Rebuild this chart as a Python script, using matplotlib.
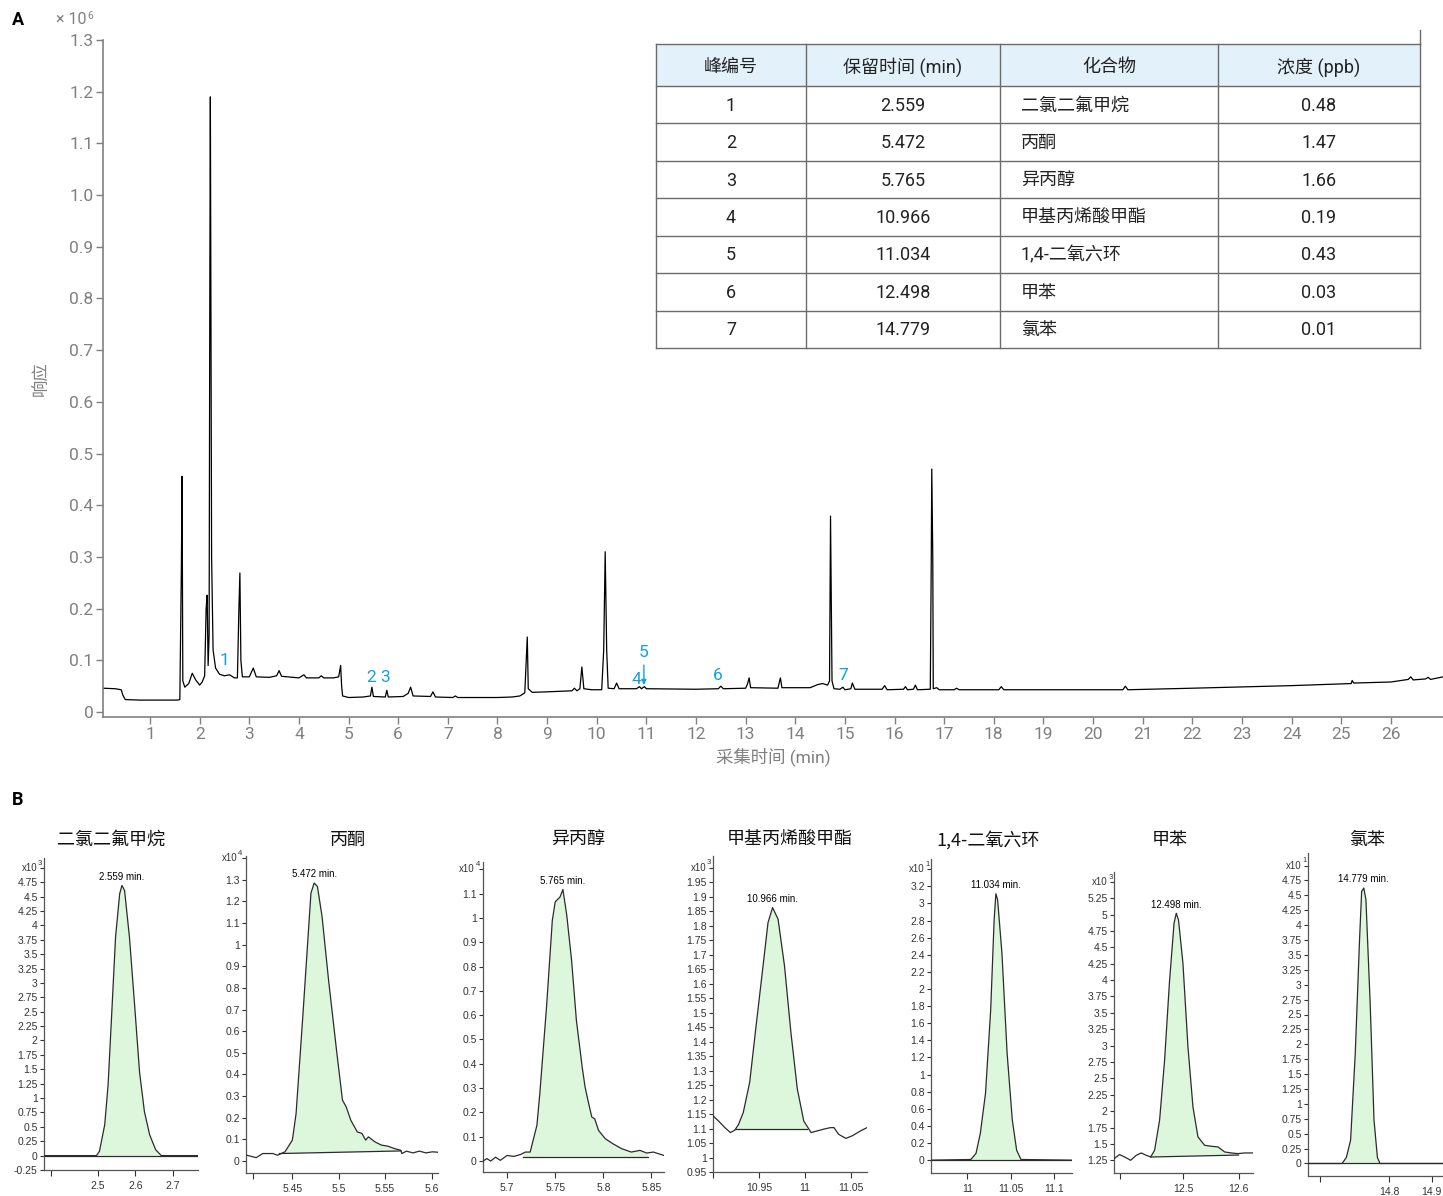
import numpy as np
import matplotlib
matplotlib.use("Agg")
import matplotlib.pyplot as plt

W, H = 1443, 1196
CJK = ['Roboto', 'Noto Sans CJK SC', 'DejaVu Sans']
SMALL = ['Liberation Sans', 'DejaVu Sans']

# ---------------- Panel A data (response x 1e6) ----------------
trace_t = [0.05, 0.3, 0.42, 0.45, 0.5, 0.8, 1.2, 1.55, 1.6, 1.63, 1.645, 1.66, 1.7, 1.78, 1.85, 1.92,
           2.0, 2.05, 2.1, 2.13, 2.15, 2.17, 2.19, 2.205, 2.215, 2.225, 2.24, 2.27, 2.32, 2.4, 2.5,
           2.6, 2.7, 2.76, 2.79, 2.81, 2.83, 2.86, 3.0, 3.08, 3.14, 3.4, 3.55, 3.6, 3.65, 4.0, 4.1,
           4.15, 4.4, 4.45, 4.5, 4.7, 4.8, 4.84, 4.86, 4.88, 5.0, 5.3, 5.44, 5.47, 5.5, 5.74, 5.77,
           5.8, 6.1, 6.2, 6.25, 6.3, 6.65, 6.7, 6.75, 7.1, 7.15, 7.2, 8.0, 8.3, 8.45, 8.55, 8.58,
           8.6, 8.62, 8.7, 9.0, 9.5, 9.55, 9.6, 9.66, 9.7, 9.74, 9.9, 10.1, 10.14, 10.17, 10.2,
           10.23, 10.35, 10.4, 10.45, 10.8, 10.86, 10.9, 10.96, 11.0, 12.0, 12.45, 12.5, 12.55,
           13.0, 13.04, 13.07, 13.1, 13.65, 13.7, 13.73, 14.3, 14.45, 14.55, 14.65, 14.69, 14.71,
           14.74, 14.78, 14.9, 14.96, 15.0, 15.12, 15.15, 15.2, 15.75, 15.8, 15.85, 16.18, 16.22,
           16.26, 16.38, 16.42, 16.46, 16.72, 16.74, 16.75, 16.77, 16.78, 16.85, 16.9, 17.2, 17.25,
           17.3, 18.1, 18.15, 18.2, 20.6, 20.65, 20.7, 22.0, 24.0, 24.9, 25.2, 25.22, 25.25, 26.0,
           26.35, 26.4, 26.45, 26.7, 26.75, 26.8, 27.05]
trace_y = [0.046, 0.045, 0.043, 0.033, 0.024, 0.023, 0.023, 0.023, 0.024, 0.27, 0.456, 0.06, 0.048, 0.055, 0.075, 0.062,
           0.052, 0.058, 0.07, 0.20, 0.226, 0.09, 0.15, 0.85, 1.19, 0.85, 0.30, 0.12, 0.085, 0.073, 0.070,
           0.072, 0.066, 0.066, 0.20, 0.269, 0.10, 0.068, 0.068, 0.085, 0.068, 0.067, 0.070, 0.080, 0.069, 0.066, 0.072,
           0.066, 0.066, 0.070, 0.066, 0.066, 0.068, 0.090, 0.050, 0.031, 0.028, 0.029, 0.031, 0.048, 0.030, 0.029, 0.042,
           0.029, 0.030, 0.036, 0.048, 0.031, 0.030, 0.039, 0.029, 0.028, 0.031, 0.028, 0.028, 0.029, 0.031, 0.037, 0.10,
           0.145, 0.045, 0.038, 0.039, 0.041, 0.046, 0.041, 0.045, 0.087, 0.045, 0.043, 0.043, 0.12, 0.31, 0.12,
           0.046, 0.045, 0.056, 0.045, 0.045, 0.049, 0.045, 0.049, 0.045, 0.044, 0.045, 0.050, 0.045,
           0.046, 0.055, 0.066, 0.047, 0.046, 0.066, 0.047, 0.047, 0.053, 0.055, 0.052, 0.060, 0.379,
           0.060, 0.045, 0.044, 0.048, 0.043, 0.045, 0.056, 0.044, 0.044, 0.051, 0.043, 0.044, 0.049,
           0.043, 0.044, 0.052, 0.043, 0.044, 0.30, 0.47, 0.30, 0.045, 0.047, 0.043, 0.043, 0.046,
           0.043, 0.043, 0.049, 0.043, 0.043, 0.050, 0.043, 0.046, 0.051, 0.054, 0.055, 0.061, 0.056, 0.058,
           0.063, 0.068, 0.062, 0.064, 0.067, 0.063, 0.068]

peak_labels = ['1', '2', '3', '4', '5', '6', '7']
peak_label_x = [2.49, 5.45, 5.73, 10.79, 10.95, 12.44, 14.96]
peak_label_y = [0.100, 0.067, 0.066, 0.062, 0.116, 0.070, 0.070]

x_ticks_A = list(range(1, 27))
y_ticks_A = [0, 0.1, 0.2, 0.3, 0.4, 0.5, 0.6, 0.7, 0.8, 0.9, 1.0, 1.1, 1.2, 1.3]

# ---------------- Table ----------------
tbl_header = ['峰编号', '保留时间 (min)', '化合物', '浓度 (ppb)']
tbl_no = ['1', '2', '3', '4', '5', '6', '7']
tbl_rt = ['2.559', '5.472', '5.765', '10.966', '11.034', '12.498', '14.779']
tbl_cmp = ['二氯二氟甲烷', '丙酮', '异丙醇', '甲基丙烯酸甲酯', '1,4-二氧六环', '甲苯', '氯苯']
tbl_conc = ['0.48', '1.47', '1.66', '0.19', '0.43', '0.03', '0.01']

# ---------------- Panel B data ----------------
p1_t = [2.356, 2.496, 2.504, 2.518, 2.527, 2.536, 2.547, 2.558, 2.564, 2.571, 2.584, 2.598, 2.611, 2.624, 2.638, 2.654, 2.669, 2.767]
p1_y = [0, 0, 0.075, 0.534, 1.222, 2.37, 3.8, 4.55, 4.693, 4.607, 3.8, 2.6, 1.452, 0.763, 0.361, 0.103, 0, 0]
p2_t = [5.401, 5.411, 5.418, 5.429, 5.434, 5.442, 5.450, 5.454, 5.461, 5.470, 5.4735, 5.477, 5.482, 5.489, 5.498,
        5.504, 5.508, 5.513, 5.520, 5.525, 5.529, 5.532, 5.539, 5.546, 5.553, 5.560, 5.567, 5.568, 5.573, 5.580, 5.587, 5.594, 5.601, 5.607]
p2_y = [0.026, 0.015, 0.034, 0.034, 0.026, 0.042, 0.096, 0.219, 0.652, 1.238, 1.285, 1.269, 1.13, 0.837, 0.497,
        0.281, 0.25, 0.188, 0.134, 0.127, 0.096, 0.111, 0.088, 0.073, 0.068, 0.057, 0.049, 0.034, 0.045, 0.037, 0.045, 0.037, 0.042, 0.04]
p3_t = [5.675, 5.679, 5.683, 5.688, 5.693, 5.700, 5.707, 5.714, 5.719, 5.724, 5.731, 5.734, 5.741, 5.747, 5.750, 5.755,
        5.758, 5.762, 5.767, 5.772, 5.778, 5.781, 5.784, 5.788, 5.791, 5.795, 5.802, 5.810, 5.819, 5.829, 5.838, 5.845, 5.852, 5.863]
p3_y = [0.0, 0.01, 0.0, 0.016, 0.003, 0.023, 0.019, 0.027, 0.037, 0.037, 0.147, 0.277, 0.634, 0.99, 1.066, 1.086,
        1.117, 1.011, 0.826, 0.579, 0.387, 0.305, 0.25, 0.181, 0.174, 0.126, 0.092, 0.071, 0.051, 0.037, 0.044, 0.033, 0.037, 0.023]
p4_t = [10.900, 10.906, 10.913, 10.919, 10.924, 10.928, 10.933, 10.940, 10.947, 10.955, 10.960, 10.965, 10.971, 10.978,
        10.985, 10.992, 10.999, 11.007, 11.014, 11.021, 11.028, 11.032, 11.037, 11.045, 11.052, 11.061, 11.068]
p4_y = [1.144, 1.126, 1.103, 1.086, 1.095, 1.115, 1.155, 1.259, 1.454, 1.672, 1.81, 1.862, 1.822, 1.661,
        1.431, 1.236, 1.126, 1.086, 1.092, 1.098, 1.103, 1.103, 1.08, 1.066, 1.075, 1.092, 1.103]
p5_t = [10.958, 11.004, 11.010, 11.015, 11.021, 11.027, 11.031, 11.033, 11.035, 11.040, 11.046, 11.052, 11.057, 11.062, 11.121]
p5_y = [0, 0.008, 0.078, 0.312, 0.78, 1.756, 2.81, 3.114, 3.044, 2.42, 1.249, 0.468, 0.117, 0.008, 0]
p6_t = [12.376, 12.386, 12.395, 12.406, 12.416, 12.425, 12.434, 12.442, 12.449, 12.458, 12.467, 12.476, 12.484, 12.488,
        12.492, 12.500, 12.509, 12.518, 12.527, 12.539, 12.551, 12.563, 12.575, 12.587, 12.599, 12.611, 12.626]
p6_y = [1.275, 1.337, 1.301, 1.25, 1.326, 1.362, 1.326, 1.301, 1.403, 1.861, 2.779, 4.0, 4.868, 5.021,
        4.919, 4.256, 2.982, 2.065, 1.607, 1.479, 1.464, 1.454, 1.377, 1.362, 1.352, 1.362, 1.362]
p7_t = [14.61, 14.69, 14.70, 14.71, 14.721, 14.731, 14.736, 14.741, 14.746, 14.756, 14.765, 14.773, 14.779, 14.927]
p7_y = [0, 0, 0.1, 0.39, 1.85, 3.75, 4.566, 4.622, 4.426, 2.689, 0.728, 0.1, 0, 0]

panels = [
    dict(title='二氯二氟甲烷', t=p1_t, y=p1_y, base=(2.356, 0, 2.767, 0), fill=(2.496, 2.669), label='2.559 min.',
         box=(44, 858, 198, 1170), xlim=(2.356, 2.767), ylim=(-0.25, 5.17),
         yticks=np.arange(-0.25, 5.01, 0.25), exp='3', xticks=[2.375, 2.5, 2.6, 2.7], xlab=['', '2.5', '2.6', '2.7']),
    dict(title='丙酮', t=p2_t, y=p2_y, base=(5.436, 0.034, 5.567, 0.046), fill=(5.436, 5.567), label='5.472 min.',
         box=(246, 856, 438, 1173), xlim=(5.40, 5.607), ylim=(-0.056, 1.41),
         yticks=np.arange(0, 1.41, 0.1), exp='4', xticks=[5.408, 5.45, 5.5, 5.55, 5.6], xlab=['', '5.45', '5.5', '5.55', '5.6']),
    dict(title='异丙醇', t=p3_t, y=p3_y, base=(5.7166, 0.016, 5.8466, 0.016), fill=(5.7166, 5.8466), label='5.765 min.',
         box=(483, 862, 664, 1172), xlim=(5.675, 5.863), ylim=(-0.045, 1.23),
         yticks=np.arange(0, 1.21, 0.1), exp='4', xticks=[5.7, 5.75, 5.8, 5.85], xlab=['5.7', '5.75', '5.8', '5.85']),
    dict(title='甲基丙烯酸甲酯', t=p4_t, y=p4_y, base=(10.924, 1.098, 11.003, 1.098), fill=(10.924, 11.003), label='10.966 min.',
         box=(713, 856, 867, 1172), xlim=(10.90, 11.068), ylim=(0.95, 2.04),
         yticks=np.arange(0.95, 2.001, 0.05), exp='3', xticks=[10.9, 10.95, 11.0, 11.05], xlab=['', '10.95', '11', '11.05']),
    dict(title='1,4-二氧六环', t=p5_t, y=p5_y, base=(10.958, 0, 11.121, 0), fill=(11.004, 11.062), label='11.034 min.',
         box=(931, 859, 1072, 1173), xlim=(10.958, 11.121), ylim=(-0.15, 3.52),
         yticks=np.arange(0, 3.41, 0.2), exp='1', xticks=[11.0, 11.05, 11.1], xlab=['11', '11.05', '11.1']),
    dict(title='甲苯', t=p6_t, y=p6_y, base=(12.442, 1.30, 12.60, 1.33), fill=(12.442, 12.60), label='12.498 min.',
         box=(1114, 872, 1253, 1173), xlim=(12.376, 12.626), ylim=(1.056, 5.65),
         yticks=np.arange(1.25, 5.51, 0.25), exp='3', xticks=[12.386, 12.5, 12.6], xlab=['', '12.5', '12.6']),
    dict(title='氯苯', t=p7_t, y=p7_y, base=(14.61, 0, 14.927, 0), fill=(14.69, 14.779), label='14.779 min.',
         box=(1308, 853, 1443, 1176), xlim=(14.61, 14.927), ylim=(-0.21, 5.21),
         yticks=np.arange(0, 5.01, 0.25), exp='1', xticks=[14.638, 14.8, 14.9], xlab=['', '14.8', '14.9']),
]
title_cx = [111, 348, 578, 790, 988, 1170, 1367]

fig = plt.figure(figsize=(W / 100, H / 100), dpi=100)


def px_axes(l, t, r, b):
    return fig.add_axes([l / W, 1 - b / H, (r - l) / W, (b - t) / H])


def fx(px):
    return px / W


def fy(py):
    return 1 - py / H


GRAY = '#808080'
BLUE = '#12a0e3'

# ---------------- Panel A ----------------
ax = px_axes(103, 40, 1443, 717)
ax.plot(trace_t, trace_y, color='black', lw=0.9)
ax.set_xlim(0.052, 27.05)
ax.set_ylim(-0.0097, 1.3)
for s in ['top', 'right']:
    ax.spines[s].set_visible(False)
for s in ['left', 'bottom']:
    ax.spines[s].set_color(GRAY)
    ax.spines[s].set_linewidth(1.2)
ax.set_xticks(x_ticks_A)
ax.set_xticklabels([str(v) for v in x_ticks_A])
ax.set_yticks(y_ticks_A)
ax.set_yticklabels(['0'] + ['%.1f' % v for v in y_ticks_A[1:]])
ax.tick_params(axis='both', colors=GRAY, labelsize=12.5, length=5, width=1, pad=2)
for lab in ax.get_xticklabels() + ax.get_yticklabels():
    lab.set_family(CJK)
ax.set_xlabel('采集时间 (min)', color=GRAY, fontsize=12.5, family=CJK, labelpad=4)
ax.set_ylabel('响应', color=GRAY, fontsize=12.5, family=CJK, labelpad=14)
for lab, x, y in zip(peak_labels, peak_label_x, peak_label_y):
    ax.text(x, y, lab, color=BLUE, fontsize=12.5, ha='center', va='center', family=CJK)
ax.annotate('', xy=(10.95, 0.047), xytext=(10.95, 0.096),
            arrowprops=dict(arrowstyle='-|>', color=BLUE, lw=1, mutation_scale=7))

fig.text(fx(18), fy(20), 'A', fontsize=13, fontweight='bold', ha='center', va='center', family=CJK)
fig.text(fx(18), fy(800), 'B', fontsize=13, fontweight='bold', ha='center', va='center', family=CJK)
fig.text(fx(56), fy(20), '× 10', fontsize=11.5, color=GRAY, ha='left', va='center', family=CJK)
fig.text(fx(87), fy(16), '6', fontsize=7.5, color=GRAY, ha='left', va='center', family=CJK)

# ---------------- Table ----------------
tx = [656, 806, 1000, 1218, 1420]
ty = [44, 86] + [86 + 37.43 * (i + 1) for i in range(7)]
tax = px_axes(600, 20, 1443, 360)
tax.set_xlim(600, 1443)
tax.set_ylim(360, 20)
tax.axis('off')
tax.fill_between([tx[0], tx[-1]], ty[0], ty[1], color='#e3f2fa', lw=0)
LC = '#6b6b6b'
for y in ty:
    tax.plot([tx[0], tx[-1]], [y, y], color=LC, lw=1)
for x in tx:
    tax.plot([x, x], [ty[0], ty[-1]], color=LC, lw=1)
tax.plot([tx[-1], tx[-1]], [30, ty[0]], color=LC, lw=1)
for i, h in enumerate(tbl_header):
    tax.text((tx[i] + tx[i + 1]) / 2, (ty[0] + ty[1]) / 2 + 2, h, ha='center', va='center',
             fontsize=13, family=CJK, color='#222222')
for r in range(7):
    yc = (ty[r + 1] + ty[r + 2]) / 2 + 1
    tax.text((tx[0] + tx[1]) / 2, yc, tbl_no[r], ha='center', va='center', fontsize=13, family=CJK, color='#222222')
    tax.text((tx[1] + tx[2]) / 2, yc, tbl_rt[r], ha='center', va='center', fontsize=13, family=CJK, color='#222222')
    tax.text(1021, yc, tbl_cmp[r], ha='left', va='center', fontsize=13, family=CJK, color='#222222')
    tax.text((tx[3] + tx[4]) / 2, yc, tbl_conc[r], ha='center', va='center', fontsize=13, family=CJK, color='#222222')

# ---------------- Panel B ----------------
DARK = '#333333'
for p, cx in zip(panels, title_cx):
    l, t, r, b = p['box']
    a = px_axes(l, t, r, b)
    tt = np.array(p['t'])
    yy = np.array(p['y'])
    t0, y0, t1, y1 = p['base']
    f0, f1 = p['fill']
    m = (tt > f0) & (tt < f1)
    if y0 == 0 and y1 == 0:
        polyx = [f0] + list(tt[m]) + [f1]
        polyy = [0] + list(yy[m]) + [0]
    else:
        polyx = [t0] + list(tt[m]) + [t1]
        polyy = [y0] + list(yy[m]) + [y1]
    a.fill(polyx, polyy, color='#ddf7dd', lw=0, zorder=1)
    a.plot(tt, yy, color='#2b2b2b', lw=0.9, zorder=3)
    a.plot([t0, t1], [y0, y1], color='#2b2b2b', lw=0.9, zorder=2)
    a.set_xlim(*p['xlim'])
    a.set_ylim(*p['ylim'])
    for s in ['top', 'right']:
        a.spines[s].set_visible(False)
    for s in ['left', 'bottom']:
        a.spines[s].set_color('#555555')
        a.spines[s].set_linewidth(0.9)
    yt = list(p['yticks'])
    a.set_yticks(yt)
    a.set_yticklabels(['%g' % round(v, 3) for v in yt[:-1]] + [''])
    a.set_xticks(p['xticks'])
    a.set_xticklabels(p['xlab'])
    a.tick_params(axis='y', colors=DARK, labelsize=7.5, length=3, width=0.8, pad=1.5)
    a.tick_params(axis='x', colors=DARK, labelsize=7.5, length=4, width=0.8, pad=4)
    for lab in a.get_xticklabels() + a.get_yticklabels():
        lab.set_family(SMALL)
    a.text(-0.045, yt[-1], 'x10', transform=a.get_yaxis_transform(), ha='right', va='center',
           fontsize=7, color=DARK, family=SMALL)
    a.text(-0.04, yt[-1] + (p['ylim'][1] - p['ylim'][0]) * 0.004, p['exp'], transform=a.get_yaxis_transform(),
           ha='left', va='bottom', fontsize=5.5, color=DARK, family=SMALL)
    k = int(np.argmax(yy))
    a.text(tt[k], yy[k] + (p['ylim'][1] - p['ylim'][0]) * 0.012, p['label'], ha='center', va='bottom',
           fontsize=7, color='black', family=SMALL)
    fig.text(fx(cx), fy(840), p['title'], ha='center', va='center', fontsize=13,
             family=['Noto Sans CJK SC', 'DejaVu Sans'], color='#111111')

fig.savefig('out.png', dpi=100)
